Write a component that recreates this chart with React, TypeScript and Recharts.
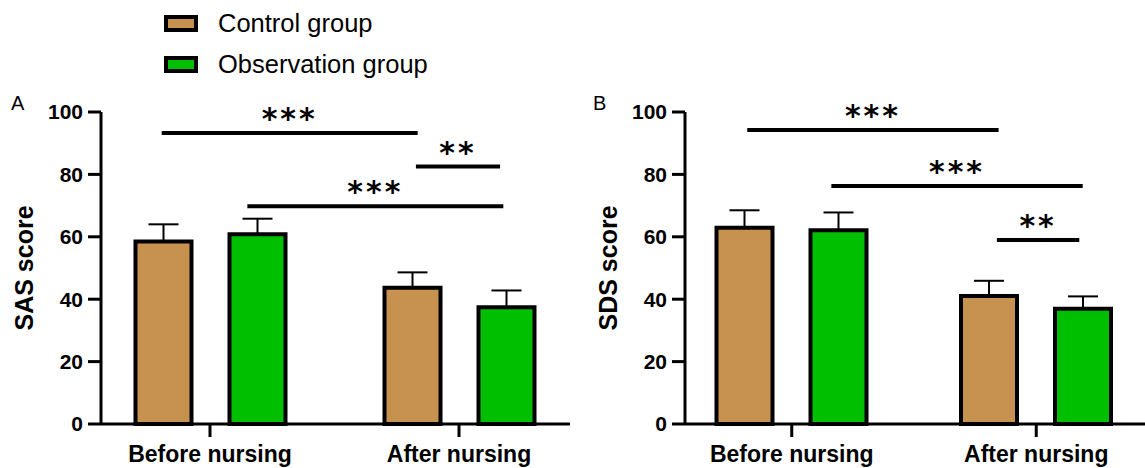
import React from 'react';
import { BarChart, Bar, XAxis, YAxis, ErrorBar, ReferenceLine } from 'recharts';

const FONT = '"Liberation Sans", Arial, sans-serif';
const STAR_FONT = '"DejaVu Sans", sans-serif';

const categories = ['Before nursing', 'After nursing'];
const seriesNames = ['Control group', 'Observation group'];
const seriesColors = ['#C7924F', '#00BF00'];
const yTicks = [0, 20, 40, 60, 80, 100];

const sasControl = [58.5, 43.7];
const sasControlSD = [5.5, 4.9];
const sasObservation = [60.8, 37.4];
const sasObservationSD = [5.0, 5.4];

const sdsControl = [62.9, 41.0];
const sdsControlSD = [5.6, 4.9];
const sdsObservation = [62.1, 36.9];
const sdsObservationSD = [5.7, 4.0];

// significance brackets: x in category-index units (category i is centred at i)
const sasBrackets = [
  { x1: -0.194, x2: 0.834, y: 93.3, label: '***' },
  { x1: 0.827, x2: 1.165, y: 82.5, label: '**' },
  { x1: 0.15, x2: 1.178, y: 69.8, label: '***' },
];
const sdsBrackets = [
  { x1: -0.182, x2: 0.846, y: 94.2, label: '***' },
  { x1: 0.162, x2: 1.19, y: 76.3, label: '***' },
  { x1: 0.839, x2: 1.176, y: 59.0, label: '**' },
];

const buildRows = (c: number[], cSD: number[], o: number[], oSD: number[]) =>
  categories.map((cat, i) => ({
    category: cat,
    control: c[i],
    controlErr: [0, cSD[i]],
    observation: o[i],
    observationErr: [0, oSD[i]],
  }));

const sasRows = buildRows(sasControl, sasControlSD, sasObservation, sasObservationSD);
const sdsRows = buildRows(sdsControl, sdsControlSD, sdsObservation, sdsObservationSD);

const PAD = { left: -15.5, right: -13.5 };
// numeric helper axis spans the same range as the category bands: [0,1] over both bands
const toUnit = (idx: number) => (idx + 0.5) / categories.length;

type PanelProps = {
  rows: any[];
  brackets: { x1: number; x2: number; y: number; label: string }[];
  yLabel: string;
  width: number;
  rightMargin: number;
};

function Panel({ rows, brackets, yLabel, width, rightMargin }: PanelProps) {
  return (
    <BarChart
      width={width}
      height={468}
      data={rows}
      margin={{ top: 112, right: rightMargin, bottom: 0, left: 0 }}
      barGap={38}
    >
      <XAxis
        xAxisId="cat"
        dataKey="category"
        type="category"
        padding={PAD}
        interval={0}
        height={44}
        tickSize={13}
        tickMargin={9}
        axisLine={{ stroke: '#000', strokeWidth: 3 }}
        tickLine={{ stroke: '#000', strokeWidth: 3 }}
        tick={{ fill: '#000', fontSize: 23, fontWeight: 'bold', fontFamily: FONT }}
      />
      <XAxis
        xAxisId="num"
        type="number"
        domain={[0, 1]}
        allowDataOverflow
        padding={PAD}
        hide
      />
      <YAxis
        domain={[0, 100]}
        ticks={yTicks}
        interval={0}
        width={101}
        tickSize={13}
        tickMargin={5}
        axisLine={{ stroke: '#000', strokeWidth: 3 }}
        tickLine={{ stroke: '#000', strokeWidth: 3 }}
        tick={{ fill: '#000', fontSize: 21, fontWeight: 'bold', fontFamily: FONT }}
        label={{
          value: yLabel,
          content: (p: any) => {
            const vb = p.viewBox || { x: 0, y: 112, width: 101, height: 312 };
            const cx = vb.x + 33;
            const cy = vb.y + vb.height / 2;
            return (
              <text
                x={cx}
                y={cy}
                transform={`rotate(-90, ${cx}, ${cy})`}
                textAnchor="middle"
                fill="#000"
                fontSize={25}
                fontWeight="bold"
                fontFamily={FONT}
              >
                {yLabel}
              </text>
            );
          },
        }}
      />
      <Bar
        xAxisId="cat"
        dataKey="control"
        name={seriesNames[0]}
        fill={seriesColors[0]}
        stroke="#000"
        strokeWidth={4}
        barSize={56}
        isAnimationActive={false}
      >
        <ErrorBar dataKey="controlErr" width={15} stroke="#000" strokeWidth={2} direction="y" />
      </Bar>
      <Bar
        xAxisId="cat"
        dataKey="observation"
        name={seriesNames[1]}
        fill={seriesColors[1]}
        stroke="#000"
        strokeWidth={4}
        barSize={56}
        isAnimationActive={false}
      >
        <ErrorBar dataKey="observationErr" width={15} stroke="#000" strokeWidth={2} direction="y" />
      </Bar>
      {brackets.map((b, i) => (
        <ReferenceLine
          key={i}
          xAxisId="num"
          segment={[
            { x: toUnit(b.x1), y: b.y },
            { x: toUnit(b.x2), y: b.y },
          ]}
          stroke="#000"
          strokeWidth={4}
          ifOverflow="visible"
          label={{
            value: b.label,
            position: 'top',
            offset: 4,
            fill: '#000',
            fontSize: 30,
            fontWeight: 'bold',
            fontFamily: STAR_FONT,
            letterSpacing: 3,
          }}
        />
      ))}
    </BarChart>
  );
}

function LegendBlock() {
  return (
    <div style={{ position: 'absolute', left: 164, top: 15 }}>
      {seriesNames.map((n, i) => (
        <div key={n} style={{ position: 'absolute', left: 0, top: i * 41, width: 320, height: 17 }}>
          <div
            style={{
              position: 'absolute',
              left: 0,
              top: 0,
              width: 26,
              height: 9,
              border: '4px solid #000',
              background: seriesColors[i],
            }}
          />
          <div
            style={{
              position: 'absolute',
              left: 54,
              top: -7,
              fontFamily: FONT,
              fontSize: 25.5,
              lineHeight: '30px',
              color: '#000',
              whiteSpace: 'nowrap',
            }}
          >
            {n}
          </div>
        </div>
      ))}
    </div>
  );
}

export default function App() {
  return (
    <div style={{ position: 'absolute', left: 0, top: 0, width: 1145, height: 468, background: '#fff', overflow: 'hidden' }}>
      <div style={{ position: 'absolute', left: 0, top: 0 }}>
        <Panel rows={sasRows} brackets={sasBrackets} yLabel="SAS score" width={575} rightMargin={5} />
      </div>
      <div style={{ position: 'absolute', left: 584, top: 0 }}>
        <Panel rows={sdsRows} brackets={sdsBrackets} yLabel="SDS score" width={561} rightMargin={0} />
      </div>
      <div style={{ position: 'absolute', left: 11, top: 91, fontFamily: FONT, fontSize: 20, lineHeight: '24px' }}>A</div>
      <div style={{ position: 'absolute', left: 593, top: 91, fontFamily: FONT, fontSize: 20, lineHeight: '24px' }}>B</div>
      <LegendBlock />
    </div>
  );
}
